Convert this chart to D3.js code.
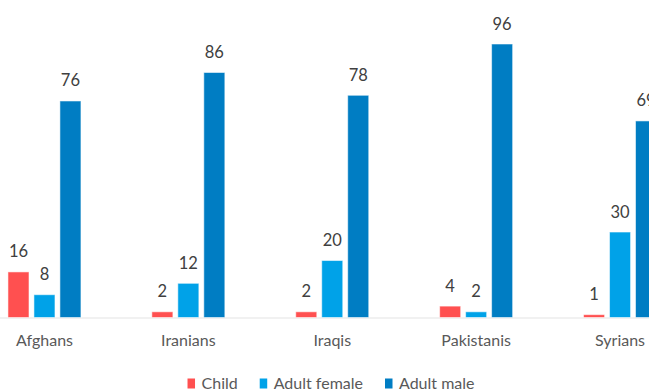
<!DOCTYPE html>
<html>
<head>
<meta charset="utf-8">
<script src="https://cdn.jsdelivr.net/npm/d3@7"></script>
<style>
  html, body { margin: 0; padding: 0; background: #fff; }
  svg { display: block; overflow: hidden; }
  text { font-family: Lato, "Open Sans", sans-serif; }
</style>
</head>
<body>
<svg id="chart" width="649" height="390"></svg>
<script>
// Share of each group by nationality (%)
const categories = ["Afghans", "Iranians", "Iraqis", "Pakistanis", "Syrians"];
const seriesNames = ["Child", "Adult female", "Adult male"];
const child = [16, 2, 2, 4, 1];
const adultFemale = [8, 12, 20, 2, 30];
const adultMale = [76, 86, 78, 96, 69];
const seriesColors = ["#FF5050", "#00A2E8", "#007DC3"];

const seriesValues = [child, adultFemale, adultMale];
const rows = categories.map((c, i) => ({
  category: c,
  values: seriesNames.map((s, j) => ({ series: s, value: seriesValues[j][i], color: seriesColors[j] }))
}));

const W = 649, H = 390;
const svg = d3.select("#chart");

const x = d3.scaleBand().domain(categories).range([-27.5, 692]).padding(0);
const xInner = d3.scaleBand().domain(seriesNames)
  .range([x.bandwidth() / 2 - 36.5, x.bandwidth() / 2 + 36.5])
  .paddingInner(0.19);
const baseY = 317.5;
const y = d3.scaleLinear().domain([0, 96]).range([baseY, 44]);

// baseline
svg.append("line")
  .attr("x1", 0).attr("x2", W)
  .attr("y1", baseY + 0.5).attr("y2", baseY + 0.5)
  .attr("stroke", "#e3e3e3").attr("stroke-width", 1);

const groups = svg.selectAll("g.group").data(rows).join("g")
  .attr("class", "group")
  .attr("transform", d => `translate(${x(d.category)},0)`);

groups.selectAll("rect").data(d => d.values).join("rect")
  .attr("x", d => xInner(d.series))
  .attr("width", xInner.bandwidth())
  .attr("y", d => y(d.value))
  .attr("height", d => baseY - y(d.value))
  .attr("fill", d => d.color)
  .attr("stroke", "rgba(255,255,255,0.55)")
  .attr("stroke-width", 1);

groups.selectAll("text.val").data(d => d.values).join("text")
  .attr("class", "val")
  .attr("x", d => xInner(d.series) + xInner.bandwidth() / 2)
  .attr("y", d => y(d.value) - 14.5)
  .attr("text-anchor", "middle")
  .attr("font-size", 16.5)
  .attr("fill", "#404040")
  .text(d => d.value);

// category axis labels
const xAxis = d3.axisBottom(x).tickSize(0).tickPadding(0);
const axisG = svg.append("g").attr("transform", `translate(0,${baseY})`).call(xAxis);
axisG.select(".domain").remove();
axisG.selectAll("text")
  .attr("y", 28.5).attr("dy", 0)
  .attr("font-size", 16)
  .attr("fill", "#595959")
  .style("font-family", "Lato, 'Open Sans', sans-serif");

// legend
const legend = svg.append("g");
let lx = 0;
seriesNames.forEach((s, i) => {
  const item = legend.append("g").attr("transform", `translate(${lx},0)`);
  item.append("rect").attr("x", 0).attr("y", 378.5).attr("width", 7.5).attr("height", 10)
    .attr("fill", seriesColors[i]);
  const t = item.append("text").attr("x", 14).attr("y", 388.5)
    .attr("font-size", 16).attr("fill", "#595959").text(s);
  lx += 14 + t.node().getComputedTextLength() + 22;
});
const lw = lx - 22;
legend.attr("transform", `translate(${331 - lw / 2},0)`);
</script>
</body>
</html>
